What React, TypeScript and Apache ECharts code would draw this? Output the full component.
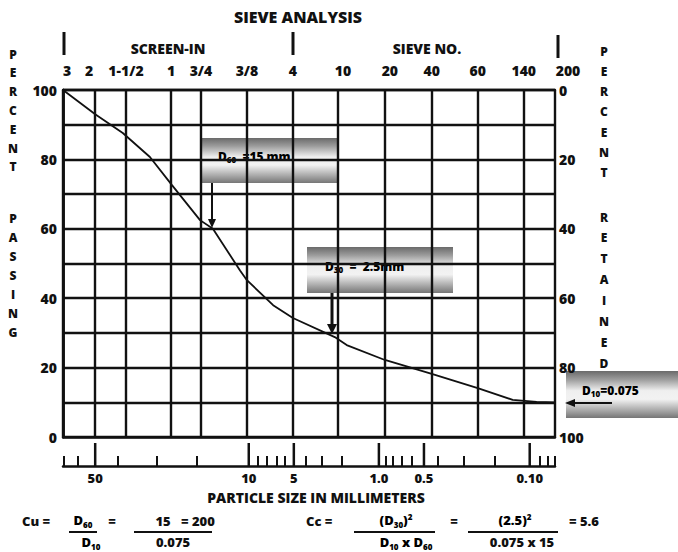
import React, { useEffect, useRef } from 'react';
import * as echarts from 'echarts';

// Sieve grid lines (chart position units) and their top labels
const sievePositions = [0, 0.7, 1.37, 2.35, 3.0, 4, 5, 5.98, 7, 8.02, 9.02, 10.02, 10.7];
const sieveLabels = ['3', '2', '1-1/2', '1', '3/4', '3/8', '4', '10', '20', '40', '60', '140', '200'];

// Gradation curve: position vs percent passing
const curvePositions = [0, 0.7, 1.3, 1.89, 2.37, 2.98, 3.26, 3.85, 4.0, 4.57, 5.0, 5.91, 6.17, 7.0, 8.02, 9.02, 9.78, 10.3, 10.7];
const percentPassing = [100, 93, 87.6, 80.7, 72.6, 62.5, 60, 48, 45.2, 38, 34.3, 28.8, 26.5, 22.2, 18.2, 14.1, 10.7, 10.1, 10];

// Particle size ruler (mm)
const mmMajorPositions = [0.7, 4.04, 5.02, 6.87, 7.85, 10.15];
const mmMajorLabels = ['50', '10', '5', '1.0', '0.5', '0.10'];
const mmMinorPositions = [0.02, 0.33, 1.2, 2.04, 2.91, 4.24, 4.43, 4.65, 4.83, 5.28, 5.63, 6.07, 7.02, 7.17, 7.37, 7.59, 8.15, 8.72, 9.39, 10.37, 10.54, 10.7];

const FONT = '"Open Sans", "DejaVu Sans", sans-serif';
const INK = '#111';

function lookup(positions: number[], labels: string[], v: number) {
  const i = positions.findIndex((p) => Math.abs(p - v) < 1e-6);
  return i >= 0 ? labels[i] : '';
}

function letterColumn(word: string, x: number, y0: number, step: number) {
  return word.split('').map((ch, i) => ({
    type: 'text',
    x,
    y: y0 + i * step,
    style: { text: ch, font: `800 12px ${FONT}`, fill: INK, align: 'center', verticalAlign: 'middle' },
  }));
}

function txt(text: string, x: number, y: number, align = 'center', size = 13) {
  return {
    type: 'text',
    x,
    y,
    style: { text, font: `800 ${size}px ${FONT}`, fill: INK, align, verticalAlign: 'middle' },
  };
}

// rich text: {b|..} normal, {s|..} subscript, {p|..} superscript
function rtxt(text: string, x: number, y: number, align = 'center', size = 13) {
  const base = { fontFamily: FONT, fontWeight: 800, color: INK };
  return {
    type: 'text',
    x,
    y,
    style: {
      text,
      align,
      verticalAlign: 'middle',
      rich: {
        b: { ...base, fontSize: size, lineHeight: size + 3, verticalAlign: 'middle' },
        s: { ...base, fontSize: Math.round(size * 0.65), lineHeight: Math.round(size * 0.65) + 1, verticalAlign: 'bottom' },
        p: { ...base, fontSize: Math.round(size * 0.65), lineHeight: Math.round(size * 0.65) + 1, verticalAlign: 'top' },
      },
    },
  };
}

function hline(x1: number, x2: number, y: number, w = 2) {
  return { type: 'line', shape: { x1, y1: y, x2, y2: y }, style: { stroke: INK, lineWidth: w } };
}

function vline(x: number, y1: number, y2: number, w = 3) {
  return { type: 'line', shape: { x1: x, y1, x2: x, y2 }, style: { stroke: INK, lineWidth: w } };
}

function tube(x: number, y: number, w: number, h: number) {
  return {
    type: 'rect',
    shape: { x, y, width: w, height: h },
    style: {
      fill: new echarts.graphic.LinearGradient(0, 0, 0, 1, [
        { offset: 0, color: '#6a6a6a' },
        { offset: 0.18, color: '#9c9c9c' },
        { offset: 0.42, color: '#efefef' },
        { offset: 0.6, color: '#f2f2f2' },
        { offset: 0.8, color: '#b4b4b4' },
        { offset: 1, color: '#767676' },
      ]),
    },
  };
}

export default function App() {
  const ref = useRef<HTMLDivElement>(null);
  useEffect(() => {
    if (!ref.current) return;
    const chart = echarts.init(ref.current, null, { renderer: 'svg' });
    const labelFont = { color: INK, fontFamily: FONT, fontWeight: 800, fontSize: 14 };

    const option: any = {
      animation: false,
      backgroundColor: '#fff',
      grid: [
        { left: 63, right: 123, top: 90, bottom: 115 },
        { left: 63, right: 123, top: 443, bottom: 86 },
      ],
      xAxis: [
        {
          type: 'value', min: 0, max: 10.7, position: 'bottom', gridIndex: 0,
          axisLine: { show: true, lineStyle: { color: INK, width: 2.5 } },
          axisTick: { show: false }, axisLabel: { show: false }, splitLine: { show: false },
        },
        {
          type: 'value', min: 0, max: 10.7, position: 'top', gridIndex: 0,
          axisLine: { show: true, lineStyle: { color: INK, width: 2.4 } },
          axisTick: { show: false }, splitLine: { show: false },
          axisLabel: {
            customValues: sievePositions,
            margin: 13,
            ...labelFont,
            formatter: (v: number) => {
              const s = lookup(sievePositions, sieveLabels, v);
              if (s === '200') return `{r|${s}}`;
              if (s === '3') return `{q|${s}}`;
              if (s === '2') return `{l|${s}}`;
              if (s === '10' || s === '20') return `{m|${s}}`;
              return s;
            },
            rich: {
              r: { ...labelFont, padding: [0, 0, 0, 26] },
              q: { ...labelFont, padding: [0, 0, 0, 8] },
              l: { ...labelFont, padding: [0, 12, 0, 0] },
              m: { ...labelFont, padding: [0, 0, 0, 10] },
            },
          },
        },
        {
          // particle-size ruler
          type: 'value', min: 0, max: 10.7, position: 'bottom', gridIndex: 1,
          axisLine: { show: true, lineStyle: { color: INK, width: 2.5 } },
          axisTick: { show: true, inside: true, length: 10, customValues: mmMinorPositions, lineStyle: { color: INK, width: 2 } },
          axisLabel: {
            customValues: mmMajorPositions, margin: 5, ...labelFont, fontSize: 13,
            formatter: (v: number) => lookup(mmMajorPositions, mmMajorLabels, v),
          },
          splitLine: { show: false },
        },
      ],
      yAxis: [
        {
          type: 'value', min: 0, max: 100, interval: 10, position: 'left', gridIndex: 0,
          axisLine: { show: true, lineStyle: { color: INK, width: 2.5 } },
          axisTick: { show: false },
          splitLine: { show: true, lineStyle: { color: INK, width: 2.4 } },
          axisLabel: { ...labelFont, margin: 6, formatter: (v: number) => (v % 20 === 0 ? String(v) : '') },
        },
        {
          type: 'value', min: 0, max: 100, interval: 10, position: 'right', inverse: true, gridIndex: 0,
          axisLine: { show: true, lineStyle: { color: INK, width: 2.5 } },
          axisTick: { show: false }, splitLine: { show: false },
          axisLabel: { ...labelFont, margin: 4, formatter: (v: number) => (v % 20 === 0 ? String(v) : '') },
        },
        { type: 'value', min: 0, max: 1, gridIndex: 1, show: false },
      ],
      series: [
        {
          type: 'line',
          xAxisIndex: 0,
          yAxisIndex: 0,
          data: curvePositions.map((p, i) => [p, percentPassing[i]]),
          symbol: 'none',
          lineStyle: { color: INK, width: 1.8 },
          markLine: {
            silent: true,
            symbol: ['none', 'none'],
            label: { show: false },
            lineStyle: { color: INK, width: 2.4, type: 'solid' },
            data: sievePositions.map((p) => ({ xAxis: p })),
          },
          z: 3,
        },
        {
          // long ruler ticks at the labelled sizes
          type: 'bar',
          xAxisIndex: 2,
          yAxisIndex: 2,
          data: mmMajorPositions.map((p) => [p, 1]),
          barWidth: 2.5,
          itemStyle: { color: INK },
          silent: true,
        },
      ],
      graphic: [
        txt('SIEVE ANALYSIS', 298, 17, 'center', 16),
        txt('SCREEN-IN', 168, 48, 'center', 14),
        txt('SIEVE NO.', 427, 48, 'center', 14),
        vline(64, 32, 55),
        vline(293, 32, 55),
        vline(558, 35, 58),
        ...letterColumn('PERCENT', 13, 54, 18.8),
        ...letterColumn('PASSING', 13, 218, 19),
        ...letterColumn('PERCENT', 604, 51, 20.3),
        ...letterColumn('RETAINED', 604, 217, 20.9),
        tube(202, 138, 135, 45),
        rtxt('{b|D}{s|60}{b|  =15 mm}', 218, 156, 'left', 12),
        vline(212, 183, 221, 2),
        { type: 'polygon', shape: { points: [[208, 219], [216, 219], [212, 228]] }, style: { fill: INK } },
        tube(307, 247, 146, 46),
        rtxt('{b|D}{s|30}{b|  =  2.5mm}', 325, 266, 'left', 12),
        vline(332, 293, 326, 3),
        { type: 'polygon', shape: { points: [[327, 324], [337, 324], [332, 334]] }, style: { fill: INK } },
        tube(566, 371, 112, 47),
        rtxt('{b|D}{s|10}{b|=0.075}', 582, 390, 'left', 12),
        hline(574, 612, 403, 2),
        { type: 'polygon', shape: { points: [[575, 399], [575, 407], [565, 403]] }, style: { fill: INK } },
        txt('PARTICLE SIZE IN MILLIMETERS', 316, 497, 'center', 14),
        txt('Cu =', 22, 521, 'left', 13),
        rtxt('{b|D}{s|60}', 83, 520),
        hline(69, 97, 532),
        txt('=', 112, 521),
        txt('15', 163, 521),
        hline(134, 212, 532),
        txt('= 200', 181, 521, 'left', 13),
        rtxt('{b|D}{s|10}', 91, 542),
        txt('0.075', 173, 542),
        txt('Cc =', 306, 521, 'left', 13),
        rtxt('{b|(D}{s|30}{b|)}{p|2}', 396, 520),
        hline(354, 435, 532),
        txt('=', 454, 521),
        rtxt('{b|(2.5)}{p|2}', 515, 520),
        hline(468, 558, 532),
        txt('= 5.6', 569, 521, 'left', 13),
        rtxt('{b|D}{s|10}{b| x D}{s|60}', 406, 542),
        txt('0.075 x 15', 522, 542),
      ],
    };
    chart.setOption(option);
    return () => chart.dispose();
  }, []);
  return <div ref={ref} style={{ width: 678, height: 552, position: 'absolute', left: 0, top: 0 }} />;
}
